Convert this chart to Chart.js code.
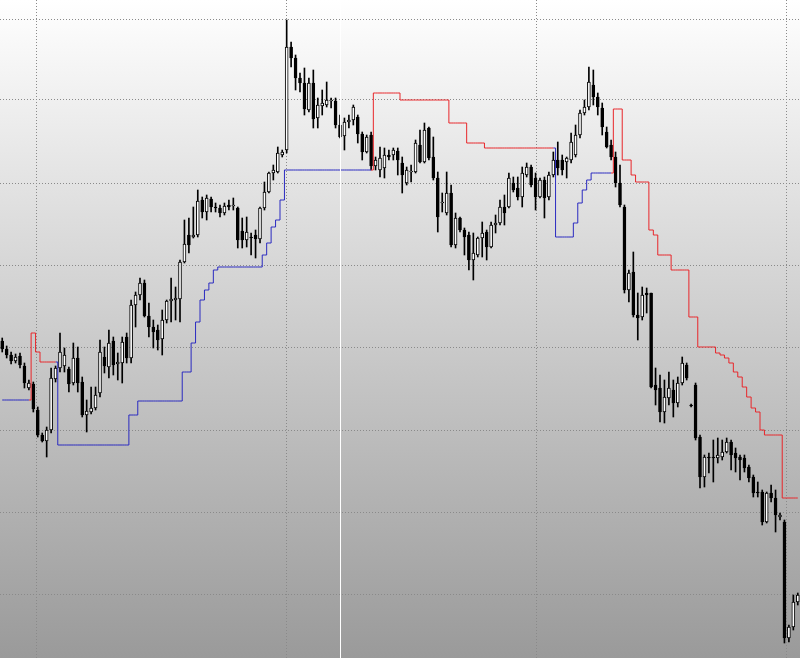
<!DOCTYPE html>
<html>
<head>
<meta charset="utf-8">
<title>Candles</title>
<script src="https://cdn.jsdelivr.net/npm/chart.js@4.4.0/dist/chart.umd.min.js"></script>
<style>
  html, body { margin: 0; padding: 0; background: #ffffff; overflow: hidden; }
  canvas { display: block; }
</style>
</head>
<body>
<canvas id="myChart" width="800" height="658"></canvas>
<script>
// price series, one value per bar (points, grid step ~82)
const openP = [
  317,309,303,297,302,292,270,274,248,223, 217,228,279,290,292,289,275,300,276,243,
  246,250,265,301,291,317,294,295,321,300, 353,363,375,342,331,328,319,338,357,358,
  359,396,423,421,423,458,446,459,451,450, 445,453,452,450,427,418,421,423,419,450,
  466,485,486,503,508,611,600,580,575,548, 575,540,552,553,557,557,533,522,536,538,
  541,524,506,523,492,488,490,503,503,507, 495,475,486,486,513,496,530,501,480,455,
  445,465,413,440,428,423,398,403,420,426, 411,433,435,451,451,475,470,461,483,491,
  480,461,478,461,483,498,498,496,498,503, 523,545,551,573,561,550,526,513,501,475,
  451,368,386,343,341,365,365,273,270,246, 260,268,255,275,293,253,273,221,181,201,
  201,200,201,206,216,205,201,200,191,181, 166,166,136,165,160,141,136,20,31,56
];
const highP = [
  320,312,306,304,305,295,278,276,251,225, 231,290,292,325,310,291,315,311,281,258,
  271,271,318,311,328,321,305,321,325,358, 366,380,378,355,338,333,348,358,380,371,
  398,438,440,451,468,461,463,461,455,453, 455,458,460,451,440,441,425,428,451,476,
  486,493,511,508,638,616,603,585,590,580, 588,560,568,576,560,560,543,540,543,553,
  543,526,523,526,501,511,510,508,510,510, 501,491,493,518,528,535,531,521,486,465,
  486,473,445,441,430,426,425,421,436,428, 436,443,458,463,485,481,481,491,495,493,
  485,480,481,486,506,516,503,501,525,533, 548,558,591,588,565,555,531,518,506,493,
  453,388,406,365,371,370,365,290,283,278, 286,278,281,301,295,254,275,223,203,205,
  218,220,218,220,218,210,203,203,193,183, 176,168,166,173,168,145,138,33,63,65
];
const lowP = [
  306,300,294,295,290,270,268,246,221,216, 201,225,276,286,286,266,273,266,241,226,
  244,248,261,285,280,283,278,275,295,295, 331,358,341,321,310,308,303,335,336,338,
  336,395,405,420,421,440,438,446,446,441, 443,448,448,410,410,411,403,400,415,448,
  465,478,485,501,505,591,568,566,543,546, 530,530,543,551,550,530,520,508,530,533,
  515,498,505,488,488,481,480,498,498,483, 465,473,476,485,495,495,498,478,426,446,
  443,411,410,426,403,388,378,401,401,398, 410,425,433,433,450,466,458,451,481,471,
  448,460,440,458,481,483,483,480,495,501, 520,543,548,553,543,523,510,498,471,451,
  365,356,341,318,338,345,270,253,236,235, 253,241,251,273,278,251,218,170,171,185,
  176,195,198,205,188,186,178,186,176,161, 161,133,135,156,126,138,15,16,28,53
];
const closeP = [
  309,303,297,301,293,275,275,249,223,217, 228,280,290,306,303,274,300,275,243,247,
  250,263,306,292,315,293,296,316,300,353, 363,375,342,331,326,318,338,357,359,360,
  396,414,413,423,457,446,460,451,450,445, 452,451,453,418,418,426,420,419,450,466,
  485,488,505,506,611,600,580,575,549,575, 539,553,555,558,558,533,521,536,538,551,
  524,506,521,492,498,500,503,501,508,498, 483,488,487,515,496,528,500,480,441,456,
  465,413,440,428,421,398,405,420,425,411, 433,435,451,445,480,468,461,485,491,473,
  461,478,460,483,498,490,488,500,516,523, 545,551,576,561,551,531,511,501,475,453,
  368,385,343,340,363,363,271,268,246,261, 270,255,275,295,280,252,220,181,201,200,
  200,203,206,216,203,200,198,190,180,165, 165,136,165,160,143,143,20,31,56,63
];

// trailing stop line: blue below price, red above price
const _ = null;
const lowerStop = [
  258,258,258,258,258,258,258,_,_,_, _,_,296,213,213,213,213,213,213,213,
  213,213,213,213,213,213,213,213,213,243, 243,257,257,257,257,257,257,257,257,257,
  257,286,286,315,336,358,368,375,388,391, 391,391,391,391,391,391,391,391,391,403,
  415,431,438,458,488,488,488,488,488,488, 488,488,488,488,488,488,488,488,488,488,
  488,488,488,488,_,_,_,_,_,_, _,_,_,_,_,_,_,_,_,_,
  _,_,_,_,_,_,_,_,_,_, _,_,_,_,_,_,_,_,_,_,
  _,_,_,_,510,421,421,421,421,435, 455,468,478,485,485,485,485,485,_,_,
  _,_,_,_,_,_,_,_,_,_, _,_,_,_,_,_,_,_,_,_,
  _,_,_,_,_,_,_,_,_,_, _,_,_,_,_,_,_,_,_,_
];
const upperStop = [
  _,_,_,_,_,_,258,325,306,296, 296,296,296,_,_,_,_,_,_,_,
  _,_,_,_,_,_,_,_,_,_, _,_,_,_,_,_,_,_,_,_,
  _,_,_,_,_,_,_,_,_,_, _,_,_,_,_,_,_,_,_,_,
  _,_,_,_,_,_,_,_,_,_, _,_,_,_,_,_,_,_,_,_,
  _,_,_,488,565,565,565,565,565,565, 558,558,558,558,558,558,558,558,558,558,
  558,535,535,535,535,515,515,515,515,510, 510,510,510,510,510,510,510,510,510,510,
  510,510,510,510,510,_,_,_,_,_, _,_,_,_,_,_,_,485,549,549,
  498,498,483,476,476,476,428,423,403,403, 403,388,388,388,388,341,341,311,311,311,
  311,305,303,300,295,286,281,271,261,250, 246,228,223,223,223,223,160,160,160,160
];

// grid positions (bar index / price)
const xGrid = [7.6, 63.85, 120.1, 176.35];
const xMarker = [76];
const yGrid = [64, 146, 228, 311, 393, 475, 558, 639];

document.addEventListener("DOMContentLoaded", function () {
  const ctx = document.getElementById("myChart").getContext("2d");
  const idx = openP.map((v, i) => i);

  const wicks = idx.map((i) => ({ x: i, y: [lowP[i], highP[i]] }));
  const bodies = idx.map((i) => ({ x: i, y: [openP[i], closeP[i]] }));
  const bodyColors = idx.map((i) => (closeP[i] >= openP[i] ? "#ffffff" : "#000000"));

  const background = {
    id: "background",
    beforeDraw(chart) {
      const c = chart.ctx;
      const g = c.createLinearGradient(0, 0, 0, chart.height);
      g.addColorStop(0, "#ffffff");
      g.addColorStop(1, "#9a9a9a");
      c.save();
      c.fillStyle = g;
      c.fillRect(0, 0, chart.width, chart.height);
      c.restore();
    },
  };

  const hiddenTicks = { display: false, padding: 0 };

  new Chart(ctx, {
    type: "bar",
    data: {
      datasets: [
        {
          type: "line",
          data: idx.map((i) => ({ x: i, y: upperStop[i] })),
          borderColor: "#e8262a",
          borderWidth: 1,
          pointRadius: 0,
          stepped: "middle",
          spanGaps: false,
          order: 0,
        },
        {
          type: "line",
          data: idx.map((i) => ({ x: i, y: lowerStop[i] })),
          borderColor: "#2a2ac0",
          borderWidth: 1,
          pointRadius: 0,
          stepped: "middle",
          spanGaps: false,
          order: 0,
        },
        {
          data: bodies,
          backgroundColor: bodyColors,
          borderColor: "#000000",
          borderWidth: 1,
          borderSkipped: false,
          barThickness: 3,
          grouped: false,
          order: 1,
        },
        {
          data: wicks,
          backgroundColor: "#000000",
          borderWidth: 0,
          barThickness: 1,
          grouped: false,
          order: 2,
        },
      ],
    },
    options: {
      responsive: false,
      animation: false,
      layout: { padding: 0 },
      plugins: {
        legend: { display: false },
        tooltip: { enabled: false },
      },
      scales: {
        x: {
          type: "linear",
          min: -0.5,
          max: 179.5,
          offset: false,
          ticks: hiddenTicks,
          grid: { color: "#8a8a8a", drawTicks: false, offset: false },
          border: { display: false, dash: [1, 2] },
          afterBuildTicks: function (axis) {
            axis.ticks = xGrid.map((v) => ({ value: v }));
          },
        },
        x2: {
          type: "linear",
          position: "bottom",
          min: -0.5,
          max: 179.5,
          offset: false,
          ticks: hiddenTicks,
          grid: { color: "#ffffff", drawTicks: false, offset: false, z: 1 },
          border: { display: false },
          afterBuildTicks: function (axis) {
            axis.ticks = xMarker.map((v) => ({ value: v }));
          },
        },
        y: {
          type: "linear",
          min: 0,
          max: 658,
          ticks: hiddenTicks,
          grid: { color: "#8a8a8a", drawTicks: false },
          border: { display: false, dash: [1, 2] },
          afterBuildTicks: function (axis) {
            axis.ticks = yGrid.map((v) => ({ value: v }));
          },
        },
      },
    },
    plugins: [background],
  });
});
</script>
</body>
</html>
